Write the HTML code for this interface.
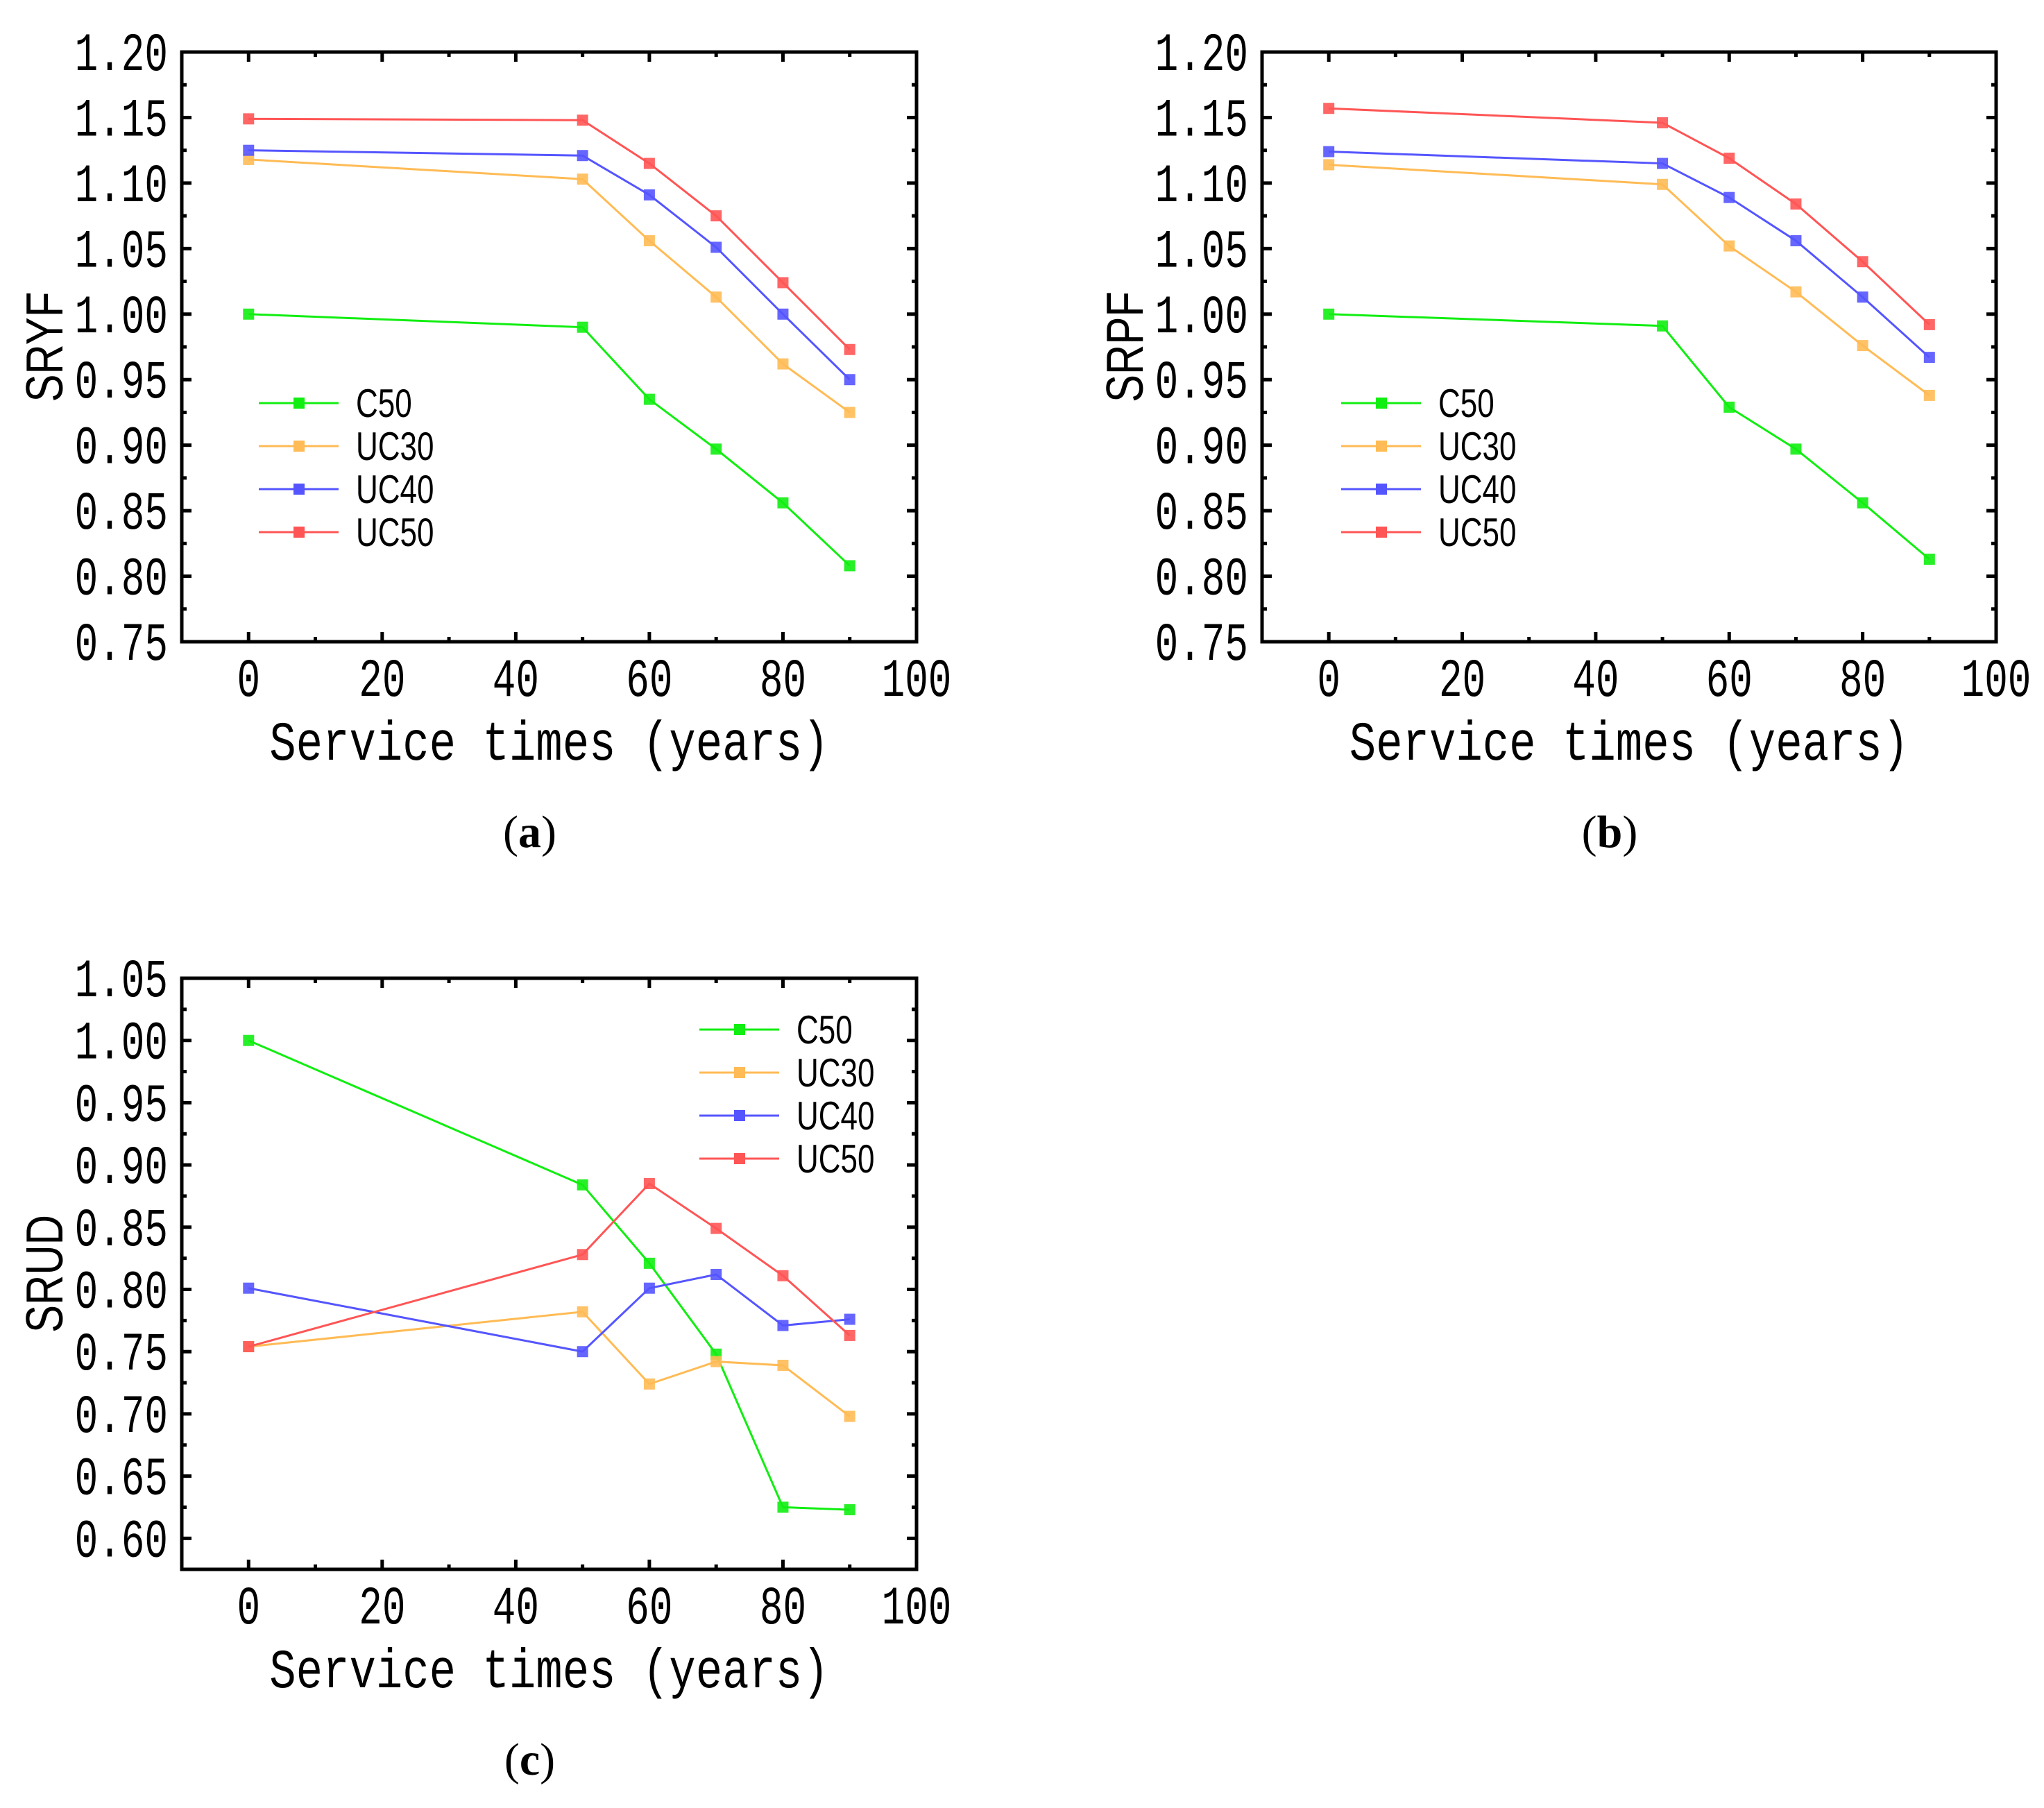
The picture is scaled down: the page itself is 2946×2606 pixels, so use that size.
<!DOCTYPE html>
<html><head><meta charset="utf-8"><style>
html,body{margin:0;padding:0;background:#fff;}
svg{display:block;}
.tick{font-family:"Liberation Mono","Noto Sans CJK SC",monospace;font-size:56px;fill:#000;}
.xt{font-family:"Liberation Mono","Noto Sans CJK SC",monospace;font-size:64px;fill:#000;}
.yt{font-family:"Liberation Sans",sans-serif;font-size:60px;fill:#000;}
.lg{font-family:"Liberation Sans",sans-serif;font-size:44px;fill:#000;}
.cap{font-family:"Liberation Serif",serif;font-size:66px;fill:#000;}
</style></head><body>
<svg id="fig" width="2946" height="2606" viewBox="0 0 2946 2606" xmlns="http://www.w3.org/2000/svg"></svg>
<script>
const years = [0, 50, 60, 70, 80, 90];
const seriesNames = ["C50", "UC30", "UC40", "UC50"];
const seriesColors = ["#11ee11", "#ffbb55", "#5555ff", "#ff5555"];
const aC50 = [1.000, 0.990, 0.935, 0.897, 0.856, 0.808];
const aUC30 = [1.118, 1.103, 1.056, 1.013, 0.962, 0.925];
const aUC40 = [1.125, 1.121, 1.091, 1.051, 1.000, 0.950];
const aUC50 = [1.149, 1.148, 1.115, 1.075, 1.024, 0.973];
const bC50 = [1.000, 0.991, 0.929, 0.897, 0.856, 0.813];
const bUC30 = [1.114, 1.099, 1.052, 1.017, 0.976, 0.938];
const bUC40 = [1.124, 1.115, 1.089, 1.056, 1.013, 0.967];
const bUC50 = [1.157, 1.146, 1.119, 1.084, 1.040, 0.992];
const cC50 = [1.000, 0.884, 0.821, 0.748, 0.625, 0.623];
const cUC30 = [0.754, 0.782, 0.724, 0.742, 0.739, 0.698];
const cUC40 = [0.801, 0.750, 0.801, 0.812, 0.771, 0.776];
const cUC50 = [0.754, 0.828, 0.885, 0.849, 0.811, 0.763];
const xTicks = [0, 20, 40, 60, 80, 100];
const yTicksAB = ["1.20","1.15","1.10","1.05","1.00","0.95","0.90","0.85","0.80","0.75"];
const yTicksC = ["1.05","1.00","0.95","0.90","0.85","0.80","0.75","0.70","0.65","0.60"];

const NS = "http://www.w3.org/2000/svg";
const svg = document.getElementById("fig");
function mk(tag, attrs, parent) {
  const e = document.createElementNS(NS, tag);
  for (const k in attrs) e.setAttribute(k, attrs[k]);
  (parent || svg).appendChild(e);
  return e;
}

function panel(cfg) {
  const g = mk("g", {});
  
  
  const L = cfg.left, R = cfg.right, T = cfg.top, B = cfg.bottom;
  const xmin = -10, xmax = 100;
  const sx = v => L + (v - xmin) / (xmax - xmin) * (R - L);
  const sy = v => B - (v - cfg.ymin) / (cfg.ymax - cfg.ymin) * (B - T);
  const tg = mk("g", {stroke: "#000", "stroke-width": 5}, g);
  for (let v = 0; v <= 100; v += 10) {
    const len = (v % 20 === 0) ? 14 : 7;
    const x = sx(v);
    mk("line", {x1: x, y1: B, x2: x, y2: B - len}, tg);
    mk("line", {x1: x, y1: T, x2: x, y2: T + len}, tg);
  }
  const nMinor = Math.round((cfg.ymax - cfg.ymin) / 0.025);
  for (let i = 0; i <= nMinor + 1; i++) {
    const v = cfg.ytop - i * 0.025;
    if (v < cfg.ymin - 1e-6) break;
    const len = (i % 2 === 0) ? 14 : 7;
    const y = sy(v);
    mk("line", {x1: L, y1: y, x2: L + len, y2: y}, tg);
    mk("line", {x1: R, y1: y, x2: R - len, y2: y}, tg);
  }
  const fr = mk("rect", {x: L, y: T, width: R - L, height: B - T, fill: "none", stroke: "#000", "stroke-width": 5}, g);
  
  
  cfg.yTicks.forEach(t => {
    const y = sy(parseFloat(t));
    const tx = mk("text", {x: 0, y: 0, "text-anchor": "end", class: "tick", transform: `translate(${L - 20},${y + 26}) scale(1,1.4)`}, g);
    tx.textContent = t;
    
    
  });
  xTicks.forEach(t => {
    const tx = mk("text", {x: 0, y: 0, "text-anchor": "middle", class: "tick", transform: `translate(${sx(t)},${B + 78}) scale(1,1.4)`}, g);
    tx.textContent = t;
    
    
  });
  const xtitle = mk("text", {x: 0, y: 0, "text-anchor": "middle", class: "xt", transform: `translate(${(L + R) / 2},${B + 170}) scale(1,1.25)`}, g);
  xtitle.textContent = "Service times (years)";
  
  
  const ytitle = mk("text", {x: 0, y: 0, "text-anchor": "middle", class: "yt", transform: `translate(${L - 172},${(T + B) / 2}) rotate(-90) scale(1,1.25)`}, g);
  ytitle.textContent = cfg.ylabel;
  
  
  cfg.series.forEach((vals, si) => {
    const sg = mk("g", {}, g);
    
    
    const pts = vals.map((v, i) => sx(years[i]) + "," + sy(v)).join(" ");
    mk("polyline", {points: pts, fill: "none", stroke: seriesColors[si], "stroke-width": 3}, sg);
    vals.forEach((v, i) => {
      const m = mk("rect", {x: sx(years[i]) - 8, y: sy(v) - 8, width: 16, height: 16, fill: seriesColors[si], "fill-opacity": 0.9}, sg);
      
      
    });
  });
  const lg = mk("g", {}, g);
  
  
  seriesNames.forEach((n, i) => {
    const y = cfg.legY + i * 62;
    const e = mk("g", {}, lg);
    
    
    mk("line", {x1: cfg.legX, y1: y, x2: cfg.legX + 115, y2: y, stroke: seriesColors[i], "stroke-width": 3}, e);
    mk("rect", {x: cfg.legX + 50, y: y - 8, width: 16, height: 16, fill: seriesColors[i]}, e);
    const t = mk("text", {x: 0, y: 0, class: "lg", transform: `translate(${cfg.legX + 140},${y + 20}) scale(1,1.3)`}, e);
    t.textContent = n;
  });
  const cap = mk("text", {x: (L + R) / 2 - 28, y: B + 296, "text-anchor": "middle", class: "cap"}, g);
  cap.innerHTML = '(<tspan font-weight="bold">' + cfg.cap + '</tspan>)';
  
  
}

panel({name: "chart-a-sryf", left: 262, right: 1321, top: 75, bottom: 925, ymin: 0.75, ymax: 1.20, ytop: 1.20,
  yTicks: yTicksAB, ylabel: "SRYF", series: [aC50, aUC30, aUC40, aUC50], legX: 373, legY: 581, cap: "a"});
panel({name: "chart-b-srpf", left: 1819, right: 2877, top: 75, bottom: 925, ymin: 0.75, ymax: 1.20, ytop: 1.20,
  yTicks: yTicksAB, ylabel: "SRPF", series: [bC50, bUC30, bUC40, bUC50], legX: 1933, legY: 581, cap: "b"});
panel({name: "chart-c-srud", left: 262, right: 1321, top: 1410, bottom: 2262, ymin: 0.5751, ymax: 1.05, ytop: 1.05,
  yTicks: yTicksC, ylabel: "SRUD", series: [cC50, cUC30, cUC40, cUC50], legX: 1008, legY: 1484, cap: "c"});
</script>
</body></html>
